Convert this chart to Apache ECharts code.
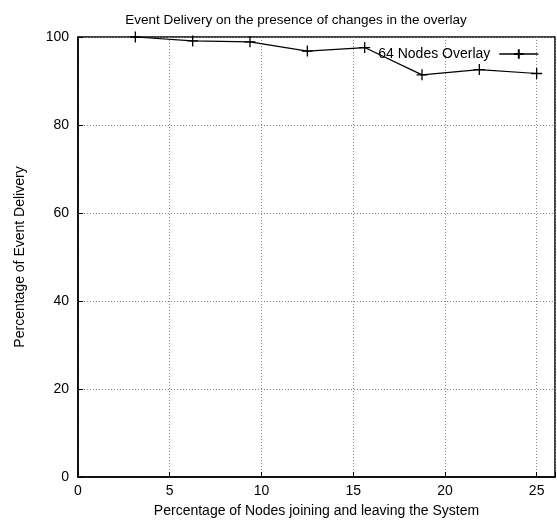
<!DOCTYPE html>
<html>
<head>
<meta charset="utf-8">
<script src="https://cdn.jsdelivr.net/npm/echarts@6/dist/echarts.min.js"></script>
<style>
  html, body { margin: 0; padding: 0; background: #fff; }
  #chart { width: 557px; height: 521px; }
</style>
</head>
<body>
<div id="chart"></div>
<script>
// Share of overlay nodes joining/leaving (%), and the resulting delivery rate (%)
const churnPercent = [3.125, 6.25, 9.375, 12.5, 15.625, 18.75, 21.875, 25];
const deliveryPercent = [100, 99.1, 98.9, 96.8, 97.6, 91.4, 92.6, 91.7];
const seriesName = '64 Nodes Overlay';
const titleText = 'Event Delivery on the presence of changes in the overlay';
const xAxisName = 'Percentage of Nodes joining and leaving the System';
const yAxisName = 'Percentage of Event Delivery';

const FONT = '"Liberation Sans", Arial, Helvetica, sans-serif';
const plusSymbol = 'path://M5,0 L5,10 M0,5 L10,5';

const chart = echarts.init(document.getElementById('chart'), null, { renderer: 'canvas' });

const gridLine = { show: true, lineStyle: { color: '#888', type: [1, 2], width: 1 } };

chart.setOption({
  animation: false,
  backgroundColor: '#fff',
  title: {
    text: titleText,
    left: 291, top: 8,
    textAlign: 'center',
    textStyle: { fontFamily: FONT, fontSize: 13.5, fontWeight: 'normal', color: '#000' }
  },
  legend: {
    right: 13, top: 42,
    align: 'right',
    itemWidth: 39, itemHeight: 12,
    itemGap: 0,
    lineStyle: { width: 1.4, color: '#000' },
    textStyle: { fontFamily: FONT, fontSize: 14, color: '#000', padding: [0, 4, 0, 0] },
    data: [{ name: seriesName }]
  },
  grid: {
    left: 78, right: 2, top: 37, bottom: 44,
    outerBoundsMode: 'none',
    containLabel: false,
    show: true, borderColor: '#000', borderWidth: 1.5, backgroundColor: 'transparent'
  },
  xAxis: {
    type: 'value', min: 0, max: 26, interval: 5,
    name: xAxisName, nameLocation: 'middle', nameGap: 27,
    nameTextStyle: { fontFamily: FONT, fontSize: 14, color: '#000' },
    axisLine: { show: true, onZero: false, lineStyle: { color: '#000', width: 1.5 } },
    axisTick: { show: true, inside: true, length: 5, lineStyle: { color: '#000' } },
    axisLabel: { fontFamily: FONT, fontSize: 14, color: '#000', margin: 7,
      formatter: v => (v % 5 === 0 ? String(v) : '') },
    splitLine: gridLine
  },
  yAxis: {
    type: 'value', min: 0, max: 100, interval: 20,
    name: yAxisName, nameLocation: 'middle', nameGap: 51, nameRotate: 90,
    nameTextStyle: { fontFamily: FONT, fontSize: 14, color: '#000' },
    axisLine: { show: true, lineStyle: { color: '#000', width: 1.5 } },
    axisTick: { show: true, inside: true, length: 5, lineStyle: { color: '#000' } },
    axisLabel: { fontFamily: FONT, fontSize: 14, color: '#000', margin: 9 },
    splitLine: gridLine
  },
  series: [{
    name: seriesName,
    type: 'line',
    data: churnPercent.map((x, i) => [x, deliveryPercent[i]]),
    symbol: plusSymbol,
    symbolSize: 11,
    showAllSymbol: true,
    lineStyle: { color: '#000', width: 1.2 },
    itemStyle: { color: 'rgba(0,0,0,0)', borderColor: '#000', borderWidth: 1.3 },
    emphasis: { disabled: true },
    z: 5
  }]
});
</script>
</body>
</html>
